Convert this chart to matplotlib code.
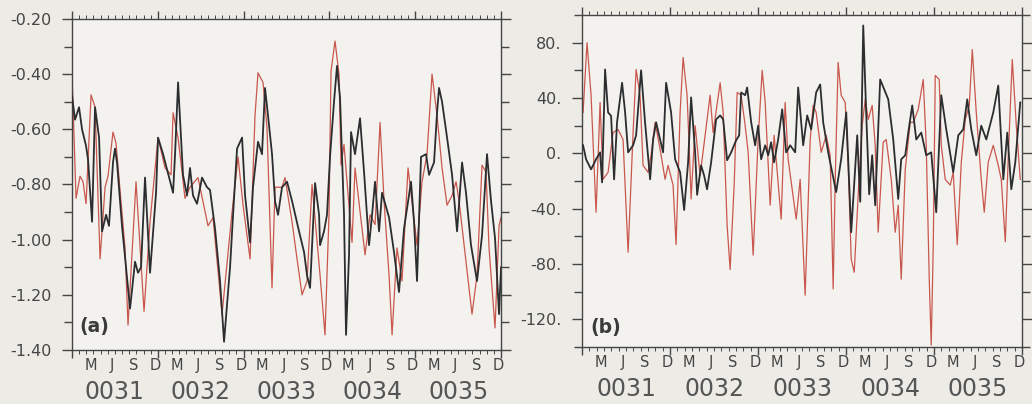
import matplotlib
matplotlib.use('Agg')
import matplotlib.pyplot as plt
from matplotlib.ticker import FixedLocator, FuncFormatter

# ---------------- data (time in months from start of year 0031) ----------------
years = ['0031', '0032', '0033', '0034', '0035']
month_letters = ['M', 'J', 'S', 'D']
month_numbers = [3, 6, 9, 12]

a_black_t = [0.0, 0.42, 0.98, 1.40, 1.96, 2.24, 2.80, 3.22, 3.78, 4.20, 4.76, 5.17, 5.73, 6.01, 6.29,
             6.99, 8.11, 8.81, 9.23, 9.65, 10.21, 10.91, 11.75, 12.03, 12.73, 14.13, 14.41, 14.83,
             15.52, 16.08, 16.50, 16.92, 17.48, 18.18, 18.88, 19.30, 20.00, 20.70, 21.26, 22.10,
             22.52, 23.08, 23.78, 24.20, 24.90, 25.31, 26.01, 26.57, 26.99, 27.41, 27.97, 28.39,
             28.81, 29.37, 30.07, 30.77, 31.75, 32.45, 32.87, 33.29, 33.99, 34.55, 34.69, 35.24,
             35.66, 36.08, 36.64, 37.06, 37.48, 38.04, 38.32, 38.74, 39.02, 39.58, 40.28, 40.84,
             41.54, 41.96, 42.38, 42.94, 43.36, 44.34, 45.03, 45.73, 46.43, 47.41, 47.83, 48.25,
             48.81, 49.51, 49.93, 50.63, 51.05, 51.33, 51.75, 52.45, 53.15, 53.85, 54.55, 55.10,
             55.80, 56.64, 57.34, 58.04, 58.60, 59.16, 59.72, 60.0]
a_black_v = [-0.48, -0.565, -0.52, -0.60, -0.66, -0.71, -0.935, -0.52, -0.63, -0.97, -0.91, -0.95,
             -0.72, -0.67, -0.72, -0.95, -1.25, -1.08, -1.12, -1.10, -0.775, -1.12, -0.83, -0.63,
             -0.69, -0.83, -0.69, -0.43, -0.765, -0.84, -0.74, -0.84, -0.87, -0.775, -0.81, -0.82,
             -0.96, -1.15, -1.37, -1.10, -0.91, -0.67, -0.63, -0.84, -1.01, -0.81, -0.645, -0.69,
             -0.45, -0.55, -0.69, -0.86, -0.91, -0.81, -0.79, -0.86, -0.97, -1.045, -1.13, -1.175,
             -0.795, -0.91, -1.02, -0.97, -0.91, -0.70, -0.50, -0.37, -0.485, -0.91, -1.345, -1.055,
             -0.61, -0.69, -0.56, -0.755, -1.02, -0.91, -0.79, -0.97, -0.83, -0.92, -1.045, -1.19,
             -0.96, -0.79, -0.935, -1.15, -0.70, -0.69, -0.765, -0.72, -0.54, -0.45, -0.50, -0.63,
             -0.765, -0.97, -0.72, -0.83, -1.02, -1.15, -0.985, -0.69, -0.86, -0.995, -1.27, -1.10]

a_red_t = [0.0, 0.56, 1.12, 1.54, 1.96, 2.66, 3.22, 3.92, 4.62, 5.03, 5.73, 6.15, 7.41, 7.83, 8.95,
           10.07, 10.91, 12.03, 13.01, 13.85, 14.13, 14.83, 15.80, 16.50, 17.62, 19.02, 19.72,
           20.98, 22.38, 23.22, 23.92, 24.90, 25.59, 26.01, 26.71, 27.27, 27.97, 28.39, 29.37,
           29.79, 30.77, 31.47, 32.17, 32.87, 33.57, 34.69, 35.38, 35.94, 36.22, 36.78, 37.34,
           37.62, 38.04, 38.46, 39.16, 39.58, 40.98, 41.68, 42.38, 43.08, 43.64, 44.34, 44.76,
           45.45, 46.15, 46.99, 48.25, 48.95, 49.65, 50.35, 51.05, 51.75, 52.45, 53.15, 53.71,
           54.13, 55.10, 55.94, 56.64, 57.34, 57.90, 58.32, 59.16, 59.72, 60.0]
a_red_v = [-0.40, -0.85, -0.77, -0.79, -0.87, -0.475, -0.52, -1.07, -0.81, -0.77, -0.61, -0.65,
           -1.03, -1.31, -0.79, -1.26, -0.935, -0.63, -0.74, -0.765, -0.54, -0.63, -0.85, -0.81,
           -0.775, -0.95, -0.92, -1.27, -0.90, -0.70, -0.875, -1.07, -0.55, -0.395, -0.43, -0.595,
           -1.175, -0.81, -0.81, -0.775, -0.935, -1.07, -1.20, -1.15, -0.80, -1.13, -1.345, -0.91,
           -0.39, -0.28, -0.40, -0.73, -0.655, -0.79, -1.01, -0.74, -1.055, -0.91, -0.945, -0.575,
           -0.86, -1.13, -1.345, -1.03, -1.15, -0.74, -1.02, -0.79, -0.69, -0.40, -0.55, -0.74,
           -0.875, -0.84, -0.79, -0.86, -1.08, -1.27, -1.13, -0.73, -0.755, -1.03, -1.32, -0.95, -0.92]

b_black_t = [0.14, 0.55, 1.23, 1.91, 2.46, 2.73, 3.14, 3.55, 3.96, 4.37, 4.77, 5.46, 5.87, 6.28,
             6.96, 7.37, 8.05, 8.59, 9.28, 9.69, 10.10, 10.64, 11.05, 11.46, 12.14, 12.69, 13.37,
             13.92, 14.46, 14.87, 15.42, 15.69, 16.23, 16.64, 17.05, 17.60, 18.28, 18.83, 19.24,
             19.78, 20.33, 21.01, 21.42, 21.69, 22.24, 22.51, 23.06, 23.60, 24.01, 24.42, 24.97,
             25.38, 25.78, 26.19, 26.74, 27.29, 27.83, 28.38, 29.06, 29.47, 30.15, 30.70, 31.24,
             31.92, 32.47, 32.88, 33.56, 34.65, 35.33, 36.02, 36.70, 37.52, 37.93, 38.34, 38.74,
             39.15, 39.56, 39.97, 40.65, 41.20, 41.75, 42.43, 43.11, 43.52, 44.07, 44.48, 45.02,
             45.57, 46.25, 46.93, 47.61, 48.29, 48.98, 49.66, 50.61, 51.30, 51.98, 52.52, 53.07,
             53.75, 54.43, 55.12, 56.07, 56.75, 57.44, 57.98, 58.53, 59.07, 59.75]
b_black_v = [5.8, -4.3, -11.6, -4.3, 0.7, -21, 60.6, 29.6, 27, -18.8, 22.4, 51, 29.6, 0.7, 5.8,
             13, 60, 22.4, -18.8, 10, 22.4, 10, 0.7, 51, 29.6, -4.3, -13.7, -41, -6.5, 40.4, 0.7,
             -30, -8.7, -16, -26, -6.5, 24.5, 27.4, 24.5, -5, 0.7, 9.4, 13, 44, 42, 47.6, 22.4,
             5.8, 20, -4.3, 5.8, -1.4, 8, -6.5, 10, 31.8, 0.7, 5.8, 0.7, 47.6, 5.8, 27.4, 17.3,
             44, 49.8, 22.4, 0.7, -28, -4.3, 29.6, -57, 13, -35, 92.4, 29.6, -29.6, -1.4, -37.5,
             53.4, 46.2, 39, 10, -33, -4.3, -1.4, 15, 34.6, 10, 15, -1.4, 0.7, -42.6, 42, 17.3,
             -13.7, 13, 17.3, 39, 17.3, -1.4, 20, 10, 29.6, 49, -18.8, 15, -26, -6.5, 36.8]

b_red_t = [0.14, 0.68, 1.23, 1.91, 2.46, 2.86, 3.55, 4.23, 4.91, 5.59, 6.28, 6.96, 7.37, 7.91,
           8.32, 9.00, 9.41, 9.96, 10.64, 11.32, 11.73, 12.41, 12.82, 13.37, 13.78, 14.32, 14.60,
           14.87, 15.42, 16.10, 17.46, 17.87, 18.83, 19.24, 19.78, 20.19, 20.74, 21.15, 21.69,
           22.24, 22.65, 23.33, 24.01, 24.56, 24.97, 25.65, 26.19, 27.15, 27.69, 28.10, 28.65,
           29.20, 29.74, 30.42, 31.11, 31.51, 31.92, 32.61, 33.29, 33.83, 34.24, 34.52, 34.92,
           35.33, 35.88, 36.29, 36.70, 37.11, 37.65, 38.20, 38.61, 39.02, 39.56, 39.97, 40.38,
           41.06, 41.47, 42.16, 42.70, 43.11, 43.52, 44.07, 44.75, 45.16, 45.84, 46.52, 46.93,
           47.34, 47.61, 47.89, 48.16, 48.70, 48.98, 49.52, 50.20, 50.61, 51.16, 51.71, 52.25,
           52.80, 53.21, 53.75, 54.43, 54.84, 55.38, 56.07, 56.75, 57.16, 57.71, 58.12, 58.66,
           59.21, 59.75]
b_red_v = [29.6, 80, 42, -42.6, 36.8, -18.8, -13.7, 15, 17.3, 10, -71.5, 15, 60.6, 42, -8.7,
           -13.7, -1.4, 22.4, 3, -18.8, -8.7, -23, -66, 29.6, 69.3, 42, 5.8, -33, 20, -16, 42, 15,
           51, 29.6, -52, -84, -23, 44, 42, 20, 0.7, -73.6, 10, 60, 36.8, -37.5, 13, -47.6, 36.8,
           -4.3, -26, -47.6, -18.8, -102.6, 10, 34.6, 29.6, 0.7, 13, -1.4, -98, -18.8, 65.7, 42,
           36.8, -8.7, -76.5, -86, -30, 20, 39, 24.5, 34.6, 5.8, -57, 8, 10, -18.8, -57, -37.5,
           -91, -11.6, 22.4, 22.4, 31.8, 53.4, 5.8, -91, -138.6, -66, 56.3, 53.4, 5.8, -18.8, -23,
           -13.7, -66, -6.5, 24.5, 34.6, 75, 29.6, -18.8, -42.6, -6.5, 5.8, -8.7, -18.8, -64,
           -1.4, 67.8, 20, -18.8]

a_major = [-1.40, -1.20, -1.00, -0.80, -0.60, -0.40, -0.20]
a_minor = [-1.30, -1.10, -0.90, -0.70, -0.50, -0.30]
b_major = [-120, -80, -40, 0, 40, 80]
b_minor = [-140, -100, -60, -20, 20, 60, 100]

# ---------------- style ----------------
plt.rcParams['font.family'] = ['DejaVu Sans']
plt.rcParams['axes.unicode_minus'] = False

BG = '#ecebe6'
AXBG = '#f3f2ee'
INK = '#454545'
BLACK = '#2b2d2f'
RED = '#c9574e'

fig = plt.figure(figsize=(10.32, 4.04), dpi=100, facecolor=BG)
axA = fig.add_axes([0.0698, 0.1337, 0.4157, 0.8193])
axB = fig.add_axes([0.564, 0.1411, 0.4264, 0.8218])


def style(ax, ylim, major, minor, fmt, letter, letter_y):
    ax.set_facecolor(AXBG)
    ax.set_xlim(0, 60)
    ax.set_ylim(*ylim)
    ax.xaxis.set_major_locator(FixedLocator([0, 12, 24, 36, 48, 60]))
    ax.xaxis.set_minor_locator(FixedLocator(list(range(61))))
    ax.yaxis.set_major_locator(FixedLocator(major))
    ax.yaxis.set_minor_locator(FixedLocator(minor))
    ax.yaxis.set_major_formatter(FuncFormatter(fmt))
    for s in ax.spines.values():
        s.set_color(INK)
        s.set_linewidth(1.0)
    ax.tick_params(axis='x', which='both', direction='out', top=True, bottom=True,
                   labelbottom=False, color=INK)
    ax.tick_params(axis='x', which='major', length=6, width=1.0)
    ax.tick_params(axis='x', which='minor', length=3, width=0.7)
    ax.tick_params(axis='y', which='both', direction='out', left=True, right=True, color=INK)
    ax.tick_params(axis='y', which='major', length=7, width=1.0, labelsize=11.5,
                   labelcolor=INK, pad=8)
    ax.tick_params(axis='y', which='minor', length=6, width=1.0)
    for i, yr in enumerate(years):
        for let, num in zip(month_letters, month_numbers):
            ax.annotate(let, xy=(12 * i + num - 0.4, 0), xycoords=('data', 'axes fraction'),
                        xytext=(0, -11.5), textcoords='offset points', ha='center',
                        va='center', fontsize=10.5, color=INK, annotation_clip=False)
        ax.annotate(yr, xy=(12 * i + 6, 0), xycoords=('data', 'axes fraction'),
                    xytext=(0, -30), textcoords='offset points', ha='center', va='center',
                    fontsize=17, color='#555555', annotation_clip=False)
    ax.text(0.018, letter_y, letter, transform=ax.transAxes, fontsize=13.5,
            fontweight='bold', color='#3a3a3a', ha='left', va='center')


style(axA, (-1.40, -0.20), a_major, a_minor, lambda v, p: f"{v:.2f}", '(a)', 0.07)
style(axB, (-140, 100), b_major, b_minor, lambda v, p: f"{v:.0f}.", '(b)', 0.06)

axA.plot(a_red_t, a_red_v, color=RED, lw=0.9, zorder=2)
axA.plot(a_black_t, a_black_v, color=BLACK, lw=1.3, zorder=3)
axB.plot(b_red_t, b_red_v, color=RED, lw=0.9, zorder=2)
axB.plot(b_black_t, b_black_v, color=BLACK, lw=1.3, zorder=3)

fig.savefig('out.png', dpi=100, facecolor=BG)
